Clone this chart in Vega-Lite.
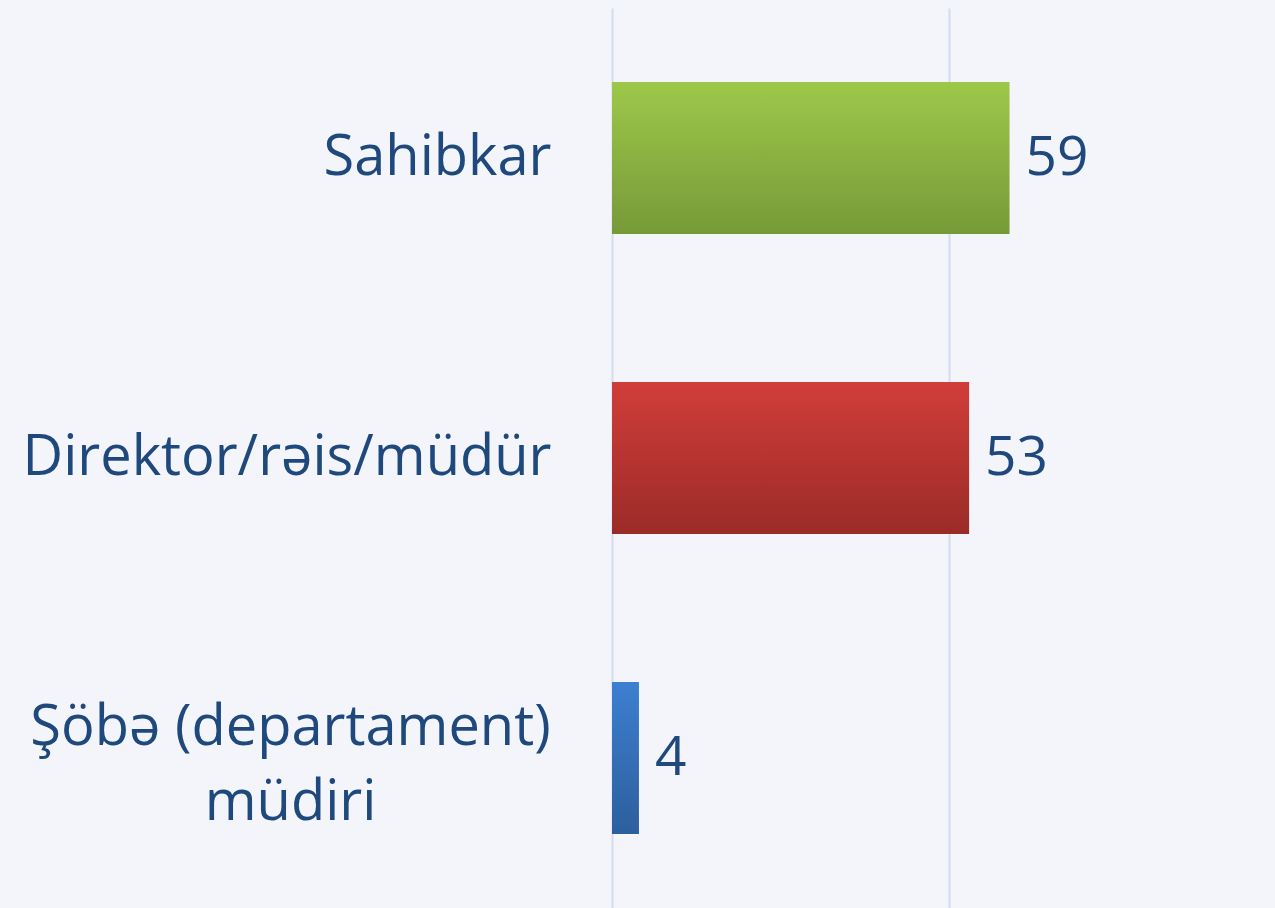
{
  "$schema": "https://vega.github.io/schema/vega-lite/v6.json",
  "width": 663,
  "height": 900,
  "autosize": {"type": "none"},
  "padding": {"left": 612, "top": 8, "right": 0, "bottom": 0},
  "background": "#f3f5fa",
  "config": {"view": {"stroke": null}, "font": "Open Sans"},
  "data": {
    "values": [
      {"role": "Sahibkar", "value": 59},
      {"role": "Direktor/rəis/müdür", "value": 53},
      {"role": "Şöbə (departament) müdiri", "value": 4}
    ]
  },
  "encoding": {
    "y": {
      "field": "role",
      "type": "nominal",
      "sort": null,
      "scale": {"paddingInner": 0.493, "paddingOuter": 0.2465},
      "axis": {
        "title": null,
        "ticks": false,
        "domain": false,
        "labelFontSize": 56,
        "labelColor": "#1f497d",
        "labelPadding": {"condition": {"test": "datum.value == 'Şöbə (departament) müdiri'", "value": 322}, "value": 61},
        "labelAlign": {"condition": {"test": "datum.value == 'Şöbə (departament) müdiri'", "value": "center"}, "value": "right"},
        "labelOffset": {"condition": {"test": "datum.value == 'Şöbə (departament) müdiri'", "value": -30}, "value": 0},
        "labelLimit": 700,
        "labelLineHeight": 75,
        "labelExpr": "datum.label == 'Şöbə (departament) müdiri' ? ['Şöbə (departament)', 'müdiri'] : datum.label"
      }
    },
    "x": {
      "field": "value",
      "type": "quantitative",
      "scale": {"domain": [0, 98.4], "nice": false, "zero": true},
      "axis": {
        "title": null,
        "labels": false,
        "ticks": false,
        "domain": false,
        "values": [0, 50],
        "grid": true,
        "gridColor": "#d2def0",
        "gridWidth": 2
      }
    }
  },
  "layer": [
    {
      "transform": [{"filter": "datum.role == 'Sahibkar'"}],
      "mark": {
        "type": "bar",
        "color": {"gradient": "linear", "x1": 0, "y1": 0, "x2": 0, "y2": 1,
          "stops": [{"offset": 0, "color": "#9dc84a"}, {"offset": 1, "color": "#769a38"}]}
      }
    },
    {
      "transform": [{"filter": "datum.role == 'Direktor/rəis/müdür'"}],
      "mark": {
        "type": "bar",
        "color": {"gradient": "linear", "x1": 0, "y1": 0, "x2": 0, "y2": 1,
          "stops": [{"offset": 0, "color": "#d13d39"}, {"offset": 1, "color": "#9b2b28"}]}
      }
    },
    {
      "transform": [{"filter": "datum.role == 'Şöbə (departament) müdiri'"}],
      "mark": {
        "type": "bar",
        "color": {"gradient": "linear", "x1": 0, "y1": 0, "x2": 0, "y2": 1,
          "stops": [{"offset": 0, "color": "#3d7fd1"}, {"offset": 1, "color": "#2c5f9c"}]}
      }
    },
    {
      "mark": {"type": "text", "align": "left", "baseline": "middle", "dx": 16, "fontSize": 55, "color": "#1f497d"},
      "encoding": {"text": {"field": "value", "type": "quantitative"}}
    }
  ]
}
